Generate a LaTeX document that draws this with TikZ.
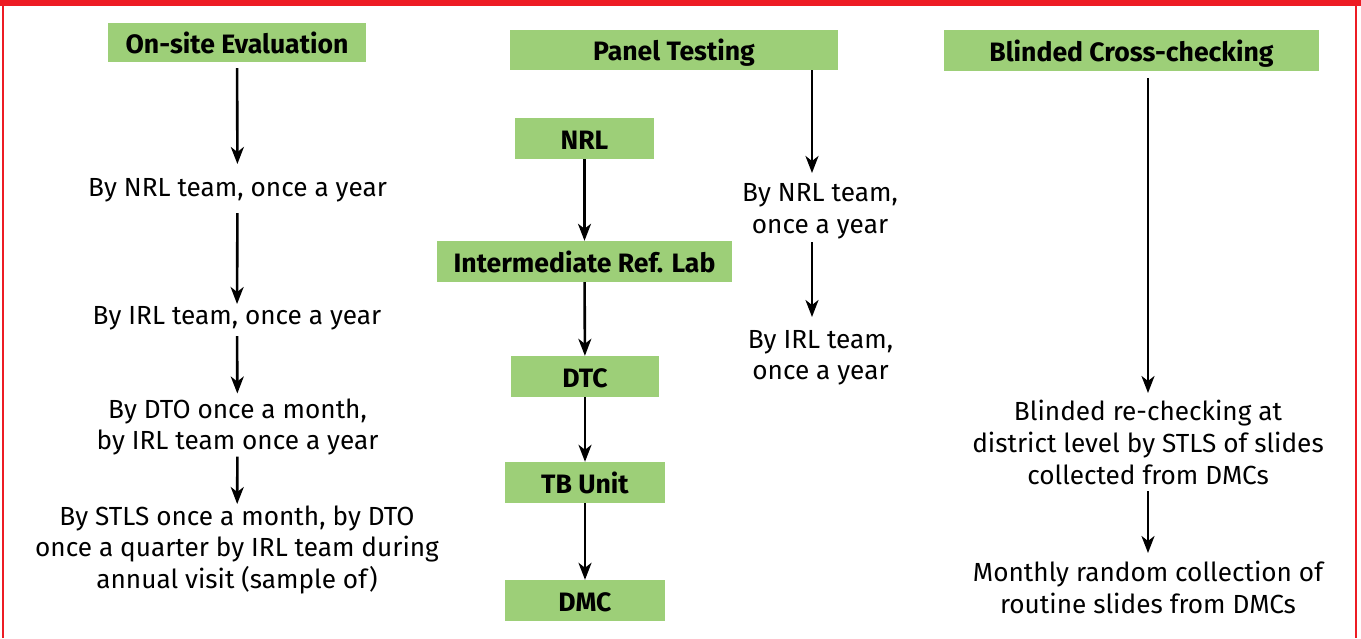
\documentclass[tikz,border=0pt]{standalone}
\usepackage{fontspec}
\setmainfont{Fira Sans}
\usetikzlibrary{arrows.meta}
\definecolor{boxgreen}{HTML}{9DCF78}
\definecolor{framered}{HTML}{ED1C24}
\begin{document}
\begin{tikzpicture}[x=1pt,y=-1pt,
  gbox/.style={fill=boxgreen,inner sep=0pt,font=\bfseries\fontsize{26.6}{30}\selectfont,text height=21.7pt,text depth=0pt},
  txt/.style={font=\fontsize{26.2}{31.5}\selectfont,align=center,inner sep=0pt,anchor=north},
  arr/.style={line width=2.6pt,-{Stealth[length=17pt,width=13pt,inset=5pt]}}]
\useasboundingbox (0,0) rectangle (1361,638);
\fill[framered] (0,0) rectangle (1361,6);
\draw[framered,line width=1.5pt] (3,0) -- (3,638);
\draw[framered,line width=1.5pt] (1356,0) -- (1356,638);

% green boxes
\node[gbox,minimum width=258pt,minimum height=39pt] (onsite) at (237,42.5) {On-site Evaluation};
\node[gbox,minimum width=328pt,minimum height=40pt] (panel) at (674,50) {Panel Testing};
\node[gbox,minimum width=375pt,minimum height=41pt] (blind) at (1131.5,50.5) {Blinded Cross-checking};
\node[gbox,minimum width=139pt,minimum height=41pt] (nrl) at (584.5,138.5) {NRL};
\node[gbox,minimum width=295pt,minimum height=41pt] (irl) at (584.5,261.5) {Intermediate Ref. Lab};
\node[gbox,minimum width=148pt,minimum height=41pt] (dtc) at (585,376.5) {DTC};
\node[gbox,minimum width=160pt,minimum height=41pt] (tb) at (585,482.5) {TB Unit};
\node[gbox,minimum width=160pt,minimum height=41pt] (dmc) at (585,600.5) {DMC};

% texts
\node[txt] (t1) at (237.5,178) {By NRL team, once a year};
\node[txt] (t2) at (237,306) {By IRL team, once a year};
\node[txt] (t3) at (237.5,398.5) {By DTO once a month,\\ by IRL team once a year};
\node[txt] (t4) at (237,505.5) {By STLS once a month, by DTO\\ once a quarter by IRL team during\\ annual visit (sample of)};
\node[txt] (p1) at (820,183.5) {By NRL team,\\ once a year};
\node[txt] (p2) at (820.5,330) {By IRL team,\\ once a year};
\node[txt,font=\fontsize{26.2}{32}\selectfont] (b1) at (1148,400) {Blinded re-checking at\\ district level by STLS of slides\\ collected from DMCs};
\node[txt,font=\fontsize{26.2}{32}\selectfont] (b2) at (1148,561) {Monthly random collection of\\ routine slides from DMCs};

\coordinate (pax) at (812,0);

% connectors
\draw[arr,shorten <=6pt,shorten >=14pt] (onsite) -- (t1);
\draw[arr,shorten <=11pt,shorten >=2pt] (t1) -- (t2);
\draw[arr,shorten <=6pt,shorten >=5pt] (t2) -- (t3);
\draw[arr,shorten <=1pt,shorten >=1.5pt] (t3) -- (t4);

\draw[arr] (nrl) -- (irl);
\draw[arr] (irl) -- (dtc);
\draw[arr] (dtc) -- (tb);
\draw[arr] (tb) -- (dmc);

\draw[arr,shorten >=10.5pt] (panel.south -| pax) -- (p1.north -| pax);
\draw[arr,shorten <=3pt,shorten >=13pt] (p1.south -| pax) -- (p2.north -| pax);

\draw[arr,shorten <=7pt,shorten >=7pt] (blind.south -| b1) -- (b1.north);
\draw[arr,shorten <=6pt,shorten >=8pt] (b1) -- (b2);
\end{tikzpicture}
\end{document}
